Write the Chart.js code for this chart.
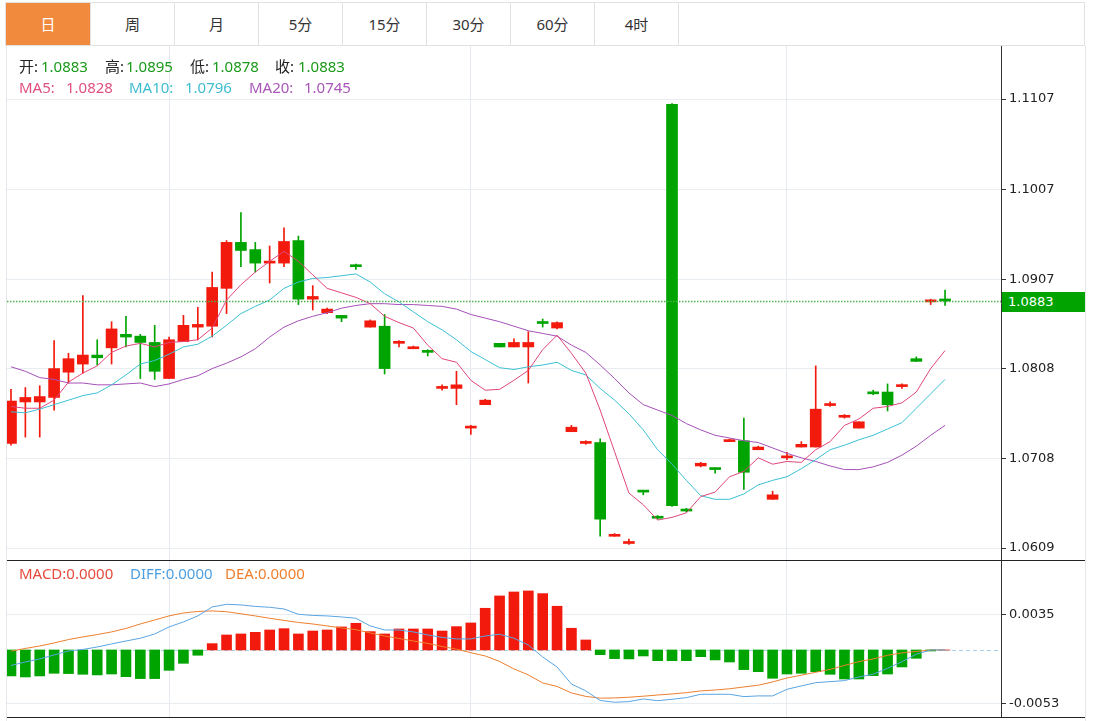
<!DOCTYPE html>
<html>
<head>
<meta charset="utf-8">
<title>K线</title>
<script src="https://cdn.jsdelivr.net/npm/chart.js@4.4.1/dist/chart.umd.min.js"></script>
<style>
  body { margin: 0; background: #fff; font-family: "Noto Sans", "Noto Sans CJK SC", sans-serif; }
  #wrap { position: relative; width: 1096px; height: 721px; overflow: hidden; }
  .tabs { position: absolute; left: 5px; top: 2px; width: 1080px; height: 44px; box-sizing: border-box;
          border: 1px solid #e2e2e2; display: flex; }
  .tab { width: 84px; box-sizing: border-box; border-right: 1px solid #e2e2e2; text-align: center;
         line-height: 42px; font-size: 15px; color: #333; }
  .tab.on { background: #f28a3e; color: #fff; width: 85px; }
  .vline { position: absolute; top: 46px; width: 1px; height: 675px; background: #e3e6ea; }
  .hline { position: absolute; left: 7px; width: 1078px; height: 1px; background: #222; }
  #pricebox { position: absolute; left: 7px; top: 46px; width: 1078px; height: 514px; }
  #macdbox { position: absolute; left: 7px; top: 561px; width: 1078px; height: 156px; }
  .lg { position: absolute; font-size: 15px; line-height: 18px; white-space: nowrap; }
  #lastTag { position: absolute; left: 1002px; width: 83px; height: 20px; background: #00a300; color: #fff;
             font: 13px "DejaVu Sans", sans-serif; line-height: 20px; padding-left: 6px; box-sizing: border-box; }
</style>
</head>
<body>
<div id="wrap">
  <div class="tabs">
    <div class="tab on">日</div><div class="tab">周</div><div class="tab">月</div><div class="tab">5分</div>
    <div class="tab">15分</div><div class="tab">30分</div><div class="tab">60分</div><div class="tab">4时</div>
  </div>
  <div class="vline" style="left:6px"></div>
  <div class="vline" style="left:1085px"></div>
  <div id="pricebox"><canvas id="price"></canvas></div>
  <div id="macdbox"><canvas id="macd"></canvas></div>
  <div class="hline" style="top:560px"></div>
  <div class="hline" style="top:717px"></div>
  <div id="legend"></div>
  <div id="lastTag"></div>
</div>
<script>
// daily candles, oldest first
var opens = [1.0725,1.0771,1.0771,1.0776,1.0804,1.0813,1.0823,1.0831,1.0846,1.0844,
  1.0837,1.0797,1.0838,1.0854,1.0855,1.0897,1.0948,1.0940,1.0925,1.0925,
  1.0950,1.0885,1.0870,1.0867,1.0923,1.0854,1.0855,1.0836,1.0830,1.0828,
  1.0786,1.0786,1.0742,1.0768,1.0836,1.0832,1.0832,1.0859,1.0853,1.0738,
  1.0725,1.0726,1.0622,1.0614,1.0673,1.0643,1.1101,1.0652,1.0700,1.0698,
  1.0727,1.0728,1.0718,1.0663,1.0709,1.0721,1.0721,1.0767,1.0754,1.0742,
  1.0782,1.0782,1.0788,1.0819,1.0882,1.0883];
var highs = [1.0785,1.0787,1.0789,1.0839,1.0825,1.0889,1.0840,1.0860,1.0866,1.0846,
  1.0856,1.0843,1.0867,1.0876,1.0915,1.0950,1.0981,1.0948,1.0944,1.0964,
  1.0955,1.0900,1.0875,1.0867,1.0924,1.0862,1.0868,1.0839,1.0833,1.0829,
  1.0790,1.0805,1.0745,1.0774,1.0836,1.0841,1.0849,1.0863,1.0860,1.0745,
  1.0728,1.0730,1.0625,1.0619,1.0673,1.0645,1.1102,1.0653,1.0704,1.0698,
  1.0730,1.0753,1.0722,1.0672,1.0715,1.0727,1.0811,1.0771,1.0757,1.0749,
  1.0784,1.0791,1.0791,1.0821,1.0885,1.0895];
var lows = [1.0723,1.0732,1.0732,1.0762,1.0792,1.0803,1.0812,1.0813,1.0832,1.0797,
  1.0796,1.0797,1.0838,1.0840,1.0843,1.0869,1.0921,1.0915,1.0903,1.0921,
  1.0879,1.0873,1.0869,1.0860,1.0918,1.0854,1.0802,1.0832,1.0830,1.0822,
  1.0784,1.0768,1.0735,1.0768,1.0832,1.0832,1.0792,1.0854,1.0852,1.0738,
  1.0724,1.0622,1.0622,1.0613,1.0668,1.0641,1.0655,1.0649,1.0699,1.0692,
  1.0727,1.0674,1.0718,1.0663,1.0707,1.0721,1.0721,1.0766,1.0753,1.0742,
  1.0779,1.0761,1.0786,1.0816,1.0879,1.0878];
var closes = [1.0772,1.0776,1.0777,1.0808,1.0819,1.0823,1.0820,1.0852,1.0843,1.0837,
  1.0805,1.0840,1.0856,1.0857,1.0898,1.0948,1.0939,1.0925,1.0927,1.0949,
  1.0885,1.0888,1.0874,1.0864,1.0921,1.0861,1.0808,1.0837,1.0832,1.0826,
  1.0788,1.0790,1.0744,1.0773,1.0832,1.0837,1.0837,1.0858,1.0859,1.0743,
  1.0727,1.0641,1.0624,1.0616,1.0671,1.0642,1.0656,1.0650,1.0703,1.0696,
  1.0729,1.0693,1.0721,1.0668,1.0711,1.0724,1.0763,1.0769,1.0756,1.0749,
  1.0780,1.0768,1.0790,1.0816,1.0884,1.0883];

var ma5 = [1.0766,1.0764,1.0764,1.0773,1.0793,1.0803,1.0811,1.0826,1.0833,1.0836,
  1.0832,1.0837,1.0838,1.0840,1.0853,1.0884,1.0901,1.0915,1.0927,1.0938,
  1.0927,1.0912,1.0897,1.0892,1.0887,1.0880,1.0866,1.0859,1.0853,1.0834,
  1.0819,1.0815,1.0795,1.0784,1.0785,1.0795,1.0806,1.0829,1.0845,1.0825,
  1.0803,1.0762,1.0716,1.0670,1.0657,1.0640,1.0643,1.0648,1.0666,1.0671,
  1.0688,1.0694,1.0709,1.0702,1.0705,1.0704,1.0718,1.0727,1.0745,1.0752,
  1.0764,1.0766,1.0770,1.0782,1.0808,1.0828];
var ma10 = [1.0760,1.0759,1.0763,1.0768,1.0773,1.0778,1.0781,1.0790,1.0801,1.0813,
  1.0817,1.0824,1.0832,1.0835,1.0844,1.0856,1.0869,1.0877,1.0884,1.0897,
  1.0904,1.0908,1.0909,1.0911,1.0913,1.0904,1.0891,1.0882,1.0871,1.0860,
  1.0851,1.0840,1.0827,1.0818,1.0809,1.0807,1.0810,1.0812,1.0815,1.0806,
  1.0801,1.0786,1.0773,1.0758,1.0740,1.0718,1.0702,1.0684,1.0667,1.0663,
  1.0663,1.0669,1.0679,1.0684,1.0688,1.0697,1.0707,1.0718,1.0723,1.0729,
  1.0734,1.0741,1.0748,1.0764,1.0780,1.0796];
var ma20 = [1.0810,1.0805,1.0798,1.0796,1.0792,1.0792,1.0790,1.0790,1.0791,1.0792,
  1.0788,1.0791,1.0796,1.0800,1.0808,1.0814,1.0821,1.0830,1.0843,1.0854,
  1.0861,1.0866,1.0870,1.0875,1.0878,1.0880,1.0880,1.0879,1.0879,1.0878,
  1.0877,1.0874,1.0868,1.0864,1.0860,1.0855,1.0850,1.0847,1.0844,1.0834,
  1.0826,1.0812,1.0797,1.0781,1.0768,1.0762,1.0756,1.0747,1.0740,1.0734,
  1.0731,1.0728,1.0726,1.0720,1.0714,1.0709,1.0705,1.0700,1.0696,1.0696,
  1.0699,1.0704,1.0712,1.0722,1.0734,1.0745];

var macdHist = [-0.00255,-0.00265,-0.00255,-0.00229,-0.00232,-0.00239,-0.00245,-0.00236,-0.00262,-0.00281,
  -0.00281,-0.00200,-0.00131,-0.00052,0.00062,0.00147,0.00157,0.00173,0.00196,0.00209,
  0.00157,0.00186,0.00196,0.00226,0.00262,0.00180,0.00157,0.00206,0.00206,0.00206,
  0.00186,0.00229,0.00265,0.00409,0.00530,0.00569,0.00579,0.00553,0.00429,0.00213,
  0.00098,-0.00046,-0.00085,-0.00088,-0.00059,-0.00105,-0.00105,-0.00105,-0.00066,-0.00098,
  -0.00118,-0.00193,-0.00213,-0.00278,-0.00236,-0.00229,-0.00213,-0.00239,-0.00285,-0.00285,
  -0.00252,-0.00236,-0.00167,-0.00082,-0.00010,0];
var diff = [-0.00152,-0.00118,-0.00088,-0.00049,-0.00010,0.00005,0.00029,0.00059,0.00088,0.00115,
  0.00157,0.00226,0.00275,0.00334,0.00422,0.00448,0.00442,0.00427,0.00419,0.00402,
  0.00350,0.00339,0.00334,0.00324,0.00311,0.00236,0.00196,0.00196,0.00177,0.00147,
  0.00123,0.00108,0.00108,0.00137,0.00154,0.00115,0.00049,-0.00069,-0.00167,-0.00334,
  -0.00402,-0.00496,-0.00513,-0.00507,-0.00481,-0.00498,-0.00484,-0.00468,-0.00435,-0.00435,
  -0.00435,-0.00458,-0.00451,-0.00451,-0.00386,-0.00353,-0.00321,-0.00311,-0.00301,-0.00265,
  -0.00238,-0.00180,-0.00115,-0.00042,0,0];
var dea = [-0.00012,0.00015,0.00039,0.00069,0.00102,0.00128,0.00151,0.00177,0.00211,0.00255,
  0.00294,0.00334,0.00363,0.00378,0.00383,0.00375,0.00355,0.00334,0.00311,0.00290,
  0.00270,0.00255,0.00236,0.00216,0.00199,0.00167,0.00137,0.00113,0.00088,0.00064,
  0.00034,0.00008,-0.00027,-0.00059,-0.00113,-0.00186,-0.00245,-0.00324,-0.00358,-0.00422,
  -0.00456,-0.00473,-0.00471,-0.00464,-0.00454,-0.00442,-0.00432,-0.00419,-0.00402,-0.00393,
  -0.00381,-0.00363,-0.00346,-0.00314,-0.00275,-0.00248,-0.00219,-0.00191,-0.00152,-0.00115,
  -0.00088,-0.00052,-0.00029,-0.00015,0,0];

var priceTicks = [1.0609, 1.0708, 1.0808, 1.0907, 1.1007, 1.1107];
var macdTicks = [-0.0053, 0.0035];
var gridIdx = [11, 32, 54];   // month separators

var RED = '#f21a0c', GREEN = '#00a400';
var last = closes.length - 1;
var idx = closes.map(function (v, i) { return i; });
var candleColors = idx.map(function (i) { return closes[i] > opens[i] ? RED : GREEN; });

function pts(arr) { return arr.map(function (v, i) { return { x: i, y: v }; }); }

// legend text: label and value placed separately
var lg = document.getElementById('legend');
function put(left, top, color, text) {
  var d = document.createElement('div');
  d.className = 'lg';
  d.style.left = left + 'px';
  d.style.top = top + 'px';
  d.style.color = color;
  d.textContent = text;
  lg.appendChild(d);
}
var GV = '#1a9a1a';
put(19, 57, '#222', '开:');  put(41, 57, GV, opens[last].toFixed(4));
put(105, 57, '#222', '高:'); put(126, 57, GV, highs[last].toFixed(4));
put(190, 57, '#222', '低:'); put(212, 57, GV, lows[last].toFixed(4));
put(275, 57, '#222', '收:'); put(298, 57, GV, closes[last].toFixed(4));
put(19, 78, '#e0507f', 'MA5:');   put(66, 78, '#e0507f', ma5[last].toFixed(4));
put(129, 78, '#3fbdd0', 'MA10:'); put(185, 78, '#3fbdd0', ma10[last].toFixed(4));
put(249, 78, '#a957b8', 'MA20:'); put(304, 78, '#a957b8', ma20[last].toFixed(4));
put(19, 564, '#e54a3c', 'MACD:' + macdHist[last].toFixed(4));
put(130, 564, '#4d9fe0', 'DIFF:' + diff[last].toFixed(4));
put(225, 564, '#ee7f2d', 'DEA:' + dea[last].toFixed(4));

var X_MIN = -0.278, X_MAX = 68.894;

function xScale() {
  return {
    type: 'linear', min: X_MIN, max: X_MAX, offset: false,
    afterBuildTicks: function (s) { s.ticks = gridIdx.map(function (v) { return { value: v }; }); },
    afterFit: function (s) { s.height = 0; },
    ticks: { display: false },
    grid: { color: '#e4eaf0', drawTicks: false, offset: false },
    border: { display: false }
  };
}
function yScale(min, max, ticks) {
  return {
    position: 'right', min: min, max: max,
    afterBuildTicks: function (s) { s.ticks = ticks.map(function (v) { return { value: v }; }); },
    afterFit: function (s) { s.width = 84; s.paddingTop = 0; s.paddingBottom = 0; },
    ticks: { callback: function (v) { return v.toFixed(4); }, color: '#222', padding: 3,
             font: { family: 'DejaVu Sans', size: 13 } },
    grid: { color: '#e8edf2', tickColor: '#333', tickLength: 5 },
    border: { display: true, color: '#333', width: 1 }
  };
}
var baseOpts = {
  responsive: true, maintainAspectRatio: false, animation: false, events: [],
  layout: { padding: 0 },
  plugins: { legend: { display: false }, tooltip: { enabled: false } }
};

var lastLine = {
  id: 'lastLine',
  afterDatasetsDraw: function (chart) {
    var ctx = chart.ctx, a = chart.chartArea;
    var y = Math.round(chart.scales.y.getPixelForValue(closes[last])) + 0.5;
    ctx.save();
    ctx.strokeStyle = '#4fb04f';
    ctx.lineWidth = 1.5;
    ctx.setLineDash([1.5, 1.5]);
    ctx.beginPath();
    ctx.moveTo(a.left, y);
    ctx.lineTo(a.right, y);
    ctx.stroke();
    ctx.restore();
    var tag = document.getElementById('lastTag');
    tag.textContent = closes[last].toFixed(4);
    tag.style.top = (46 + y - 10) + 'px';
  }
};

new Chart(document.getElementById('price'), {
  type: 'bar',
  data: {
    datasets: [
      { type: 'line', data: pts(ma5), borderColor: '#e0467c', borderWidth: 1, pointRadius: 0, tension: 0, order: 0 },
      { type: 'line', data: pts(ma10), borderColor: '#3cc0d3', borderWidth: 1, pointRadius: 0, tension: 0, order: 1 },
      { type: 'line', data: pts(ma20), borderColor: '#a650b8', borderWidth: 1, pointRadius: 0, tension: 0, order: 2 },
      { type: 'bar', data: idx.map(function (i) { return { x: i, y: [opens[i], closes[i]] }; }),
        backgroundColor: candleColors, barThickness: 11, minBarLength: 2, grouped: false, order: 3 },
      { type: 'bar', data: idx.map(function (i) { return { x: i, y: [lows[i], highs[i]] }; }),
        backgroundColor: candleColors, barThickness: 1, grouped: false, order: 4 }
    ]
  },
  options: Object.assign({}, baseOpts, {
    scales: { x: xScale(), y: yScale(1.05957, 1.11658, priceTicks) }
  }),
  plugins: [lastLine]
});

var zeroLine = {
  id: 'zeroLine',
  beforeDatasetsDraw: function (chart) {
    var ctx = chart.ctx, a = chart.chartArea;
    var y = Math.round(chart.scales.y.getPixelForValue(0)) + 0.5;
    ctx.save();
    ctx.strokeStyle = '#a8cfe4';
    ctx.lineWidth = 1;
    ctx.setLineDash([4, 3]);
    ctx.beginPath();
    ctx.moveTo(a.left, y);
    ctx.lineTo(a.right, y);
    ctx.stroke();
    ctx.restore();
  }
};

new Chart(document.getElementById('macd'), {
  type: 'bar',
  data: {
    datasets: [
      { type: 'line', data: pts(diff), borderColor: '#5aa5e2', borderWidth: 1, pointRadius: 0, tension: 0, order: 0 },
      { type: 'line', data: pts(dea), borderColor: '#ee7f2d', borderWidth: 1, pointRadius: 0, tension: 0, order: 1 },
      { type: 'bar', data: pts(macdHist),
        backgroundColor: macdHist.map(function (v) { return v >= 0 ? RED : GREEN; }),
        barThickness: 10, grouped: false, order: 2 }
    ]
  },
  options: Object.assign({}, baseOpts, {
    scales: { x: xScale(), y: yScale(-0.00658, 0.00873, macdTicks) }
  }),
  plugins: [zeroLine]
});
</script>
</body>
</html>
